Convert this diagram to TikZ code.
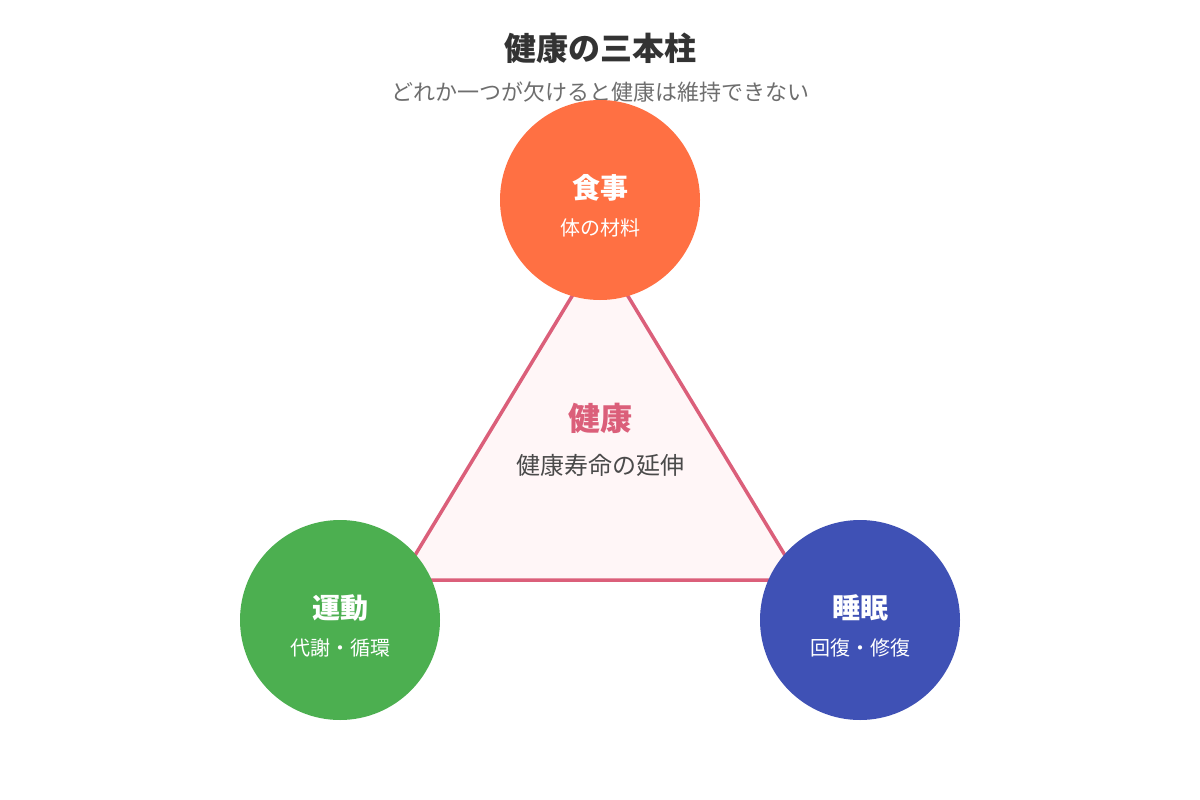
\documentclass[tikz,border=0pt]{standalone}
\usepackage{fontspec}
\setmainfont{Noto Sans CJK JP}
\usepackage{tikz}

\definecolor{titlegray}{HTML}{333333}
\definecolor{subgray}{HTML}{6E6E6E}
\definecolor{foodorange}{HTML}{FF7043}
\definecolor{movegreen}{HTML}{4CAF50}
\definecolor{sleepblue}{HTML}{3F51B5}
\definecolor{healthpink}{HTML}{DB5F7A}
\definecolor{healthfill}{HTML}{FFF6F7}
\definecolor{textgray}{HTML}{4A4A4A}

\begin{document}
\begin{tikzpicture}[x=1pt,y=-1pt]
      \tikzstyle{pillar}=[circle,minimum size=200pt,inner sep=0pt]
      \tikzstyle{pillarname}=[text=white,font=\fontsize{28}{33}\selectfont\bfseries]
      \tikzstyle{pillarnote}=[text=white,font=\fontsize{20}{24}\selectfont]

      \useasboundingbox (0,0) rectangle (1200,800);
      \fill[white] (0,0) rectangle (1200,800);

      \node[text=titlegray,font=\fontsize{32}{38}\selectfont\bfseries] (title) at (600,48) {健康の三本柱};
      \node[text=subgray,font=\fontsize{22}{26}\selectfont] (subtitle) at (600,92) {どれか一つが欠けると健康は維持できない};

      \coordinate (t0) at (600,250);
      \coordinate (t1) at (400,580);
      \coordinate (t2) at (800,580);
      \draw[healthpink,fill=healthfill,line width=3.5pt,line join=round] (t0) -- (t1) -- (t2) -- cycle;

      \node[text=healthpink,font=\fontsize{32}{38}\selectfont\bfseries] (health) at (600,418) {健康};
      \node[text=textgray,font=\fontsize{24}{28}\selectfont] (goal) at (600,465) {健康寿命の延伸};

      \node[pillar,fill=foodorange] (food) at (600,200) {};
      \node[pillarname] (foodname) at (600,188) {食事};
      \node[pillarnote] (foodnote) at (600,228) {体の材料};

      \node[pillar,fill=movegreen] (move) at (340,620) {};
      \node[pillarname] (movename) at (340,608) {運動};
      \node[pillarnote] (movenote) at (340,648) {代謝・循環};

      \node[pillar,fill=sleepblue] (sleep) at (860,620) {};
      \node[pillarname] (sleepname) at (860,608) {睡眠};
      \node[pillarnote] (sleepnote) at (860,648) {回復・修復};

    \end{tikzpicture}
\end{document}
